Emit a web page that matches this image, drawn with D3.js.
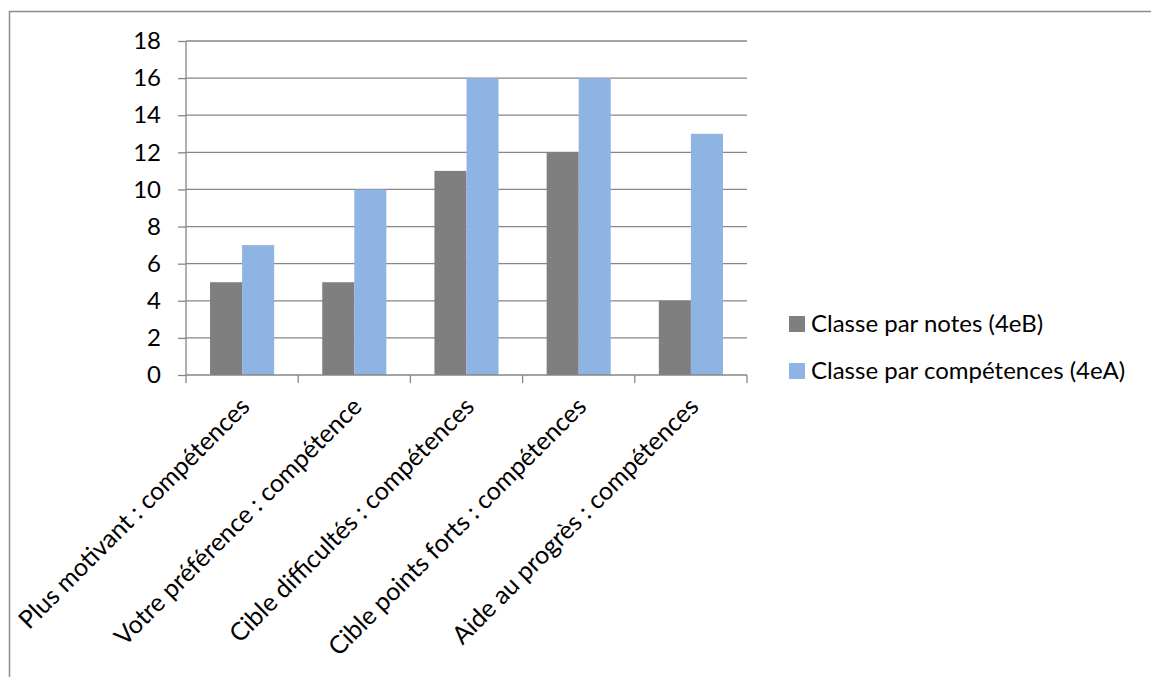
<!DOCTYPE html>
<html>
<head>
<meta charset="utf-8">
<script src="https://cdn.jsdelivr.net/npm/d3@7"></script>
<style>
 body { margin: 0; background: #fff; }
 text { font-family: Lato, "Liberation Sans", sans-serif; fill: #000; }
</style>
</head>
<body>
<svg id="chart"></svg>
<script>
var categories = ["Plus motivant : compétences", "Votre préférence : compétence", "Cible difficultés : compétences", "Cible points forts : compétences", "Aide au progrès : compétences"]
var notes4eB = [5, 5, 11, 12, 4]
var competences4eA = [7, 10, 16, 16, 13]
var seriesNames = ["Classe par notes (4eB)", "Classe par compétences (4eA)"]
var yTicks = [0, 2, 4, 6, 8, 10, 12, 14, 16, 18]

var screen = {width: 1151, height: 677}
var margin = {top: 41, left: 186, right: 404, bottom: 302}
var w = screen.width - margin.left - margin.right
var h = screen.height - margin.top - margin.bottom
var colors = ["#7f7f7f", "#8eb4e3"]
var fontSize = 24

var svg = d3.select("#chart")
  .attr("width", screen.width)
  .attr("height", screen.height)

// outer frame of the chart area
svg.append("rect")
  .attr("x", 9.5).attr("y", 11.5)
  .attr("width", 1200).attr("height", 700)
  .attr("fill", "none")
  .attr("stroke", "#8c8c8c")
  .attr("stroke-width", 1.5)

var data = categories.map(function(c, i) {
  return {cat: c, values: [notes4eB[i], competences4eA[i]]}
})

var xScale = d3.scaleBand()
  .domain(categories)
  .range([0, w])

var yScale = d3.scaleLinear()
  .domain([0, 18])
  .range([h, 0])

var chart = svg.append("g")
  .attr("transform", "translate(" + margin.left + "," + margin.top + ")")

// gridlines
chart.selectAll(".grid")
  .data(yTicks.slice(1))
  .enter()
  .append("line")
  .attr("x1", 0).attr("x2", w)
  .attr("y1", function(d) { return yScale(d) })
  .attr("y2", function(d) { return yScale(d) })
  .attr("stroke", "#868686")
  .attr("stroke-width", 1.3)

// bars: excel gap width 150%
var barW = xScale.bandwidth() / 3.5
var groups = chart.selectAll(".cat")
  .data(data)
  .enter()
  .append("g")
  .attr("transform", function(d) { return "translate(" + (xScale(d.cat) + barW * 0.75) + ",0)" })

groups.selectAll("rect")
  .data(function(d) { return d.values })
  .enter()
  .append("rect")
  .attr("x", function(d, i) { return i * barW })
  .attr("y", function(d) { return yScale(d) })
  .attr("width", barW)
  .attr("height", function(d) { return h - yScale(d) })
  .attr("fill", function(d, i) { return colors[i] })

// y axis
var yAxis = d3.axisLeft(yScale)
  .tickValues(yTicks)
  .tickSize(8)
  .tickPadding(17)

var yG = chart.append("g").call(yAxis)
yG.select(".domain").attr("stroke", "#868686").attr("stroke-width", 1.3).attr("d", "M0," + h + "V0")
yG.selectAll(".tick line").attr("stroke", "#868686").attr("stroke-width", 1.3)
yG.selectAll(".tick text")
  .style("font-size", fontSize + "px")
  .style("font-family", "Lato, 'Liberation Sans', sans-serif")
  .attr("fill", "#000")

// x axis line and category ticks
chart.append("line")
  .attr("x1", 0).attr("x2", w)
  .attr("y1", h).attr("y2", h)
  .attr("stroke", "#868686").attr("stroke-width", 1.3)

chart.selectAll(".xtick")
  .data(d3.range(categories.length + 1))
  .enter()
  .append("line")
  .attr("x1", function(d) { return d * xScale.step() })
  .attr("x2", function(d) { return d * xScale.step() })
  .attr("y1", h).attr("y2", h + 8)
  .attr("stroke", "#868686").attr("stroke-width", 1.3)

// rotated category labels
chart.selectAll(".xlabel")
  .data(categories)
  .enter()
  .append("text")
  .attr("transform", function(d) {
    return "translate(" + (xScale(d) + xScale.bandwidth() / 2 - 5) + "," + (h + 19) + ") rotate(-45)"
  })
  .attr("text-anchor", "end")
  .attr("dy", "0.8em")
  .style("font-size", "25px")
  .text(function(d) { return d })

// legend
var legend = svg.append("g")
  .attr("transform", "translate(789,316)")

var items = legend.selectAll("g")
  .data(seriesNames)
  .enter()
  .append("g")
  .attr("transform", function(d, i) { return "translate(0," + (i * 47) + ")" })

items.append("rect")
  .attr("width", 16).attr("height", 16)
  .attr("fill", function(d, i) { return colors[i] })

items.append("text")
  .attr("x", 22)
  .attr("y", 16)
  .style("font-size", fontSize + "px")
  .text(function(d) { return d })
</script>
</body>
</html>
